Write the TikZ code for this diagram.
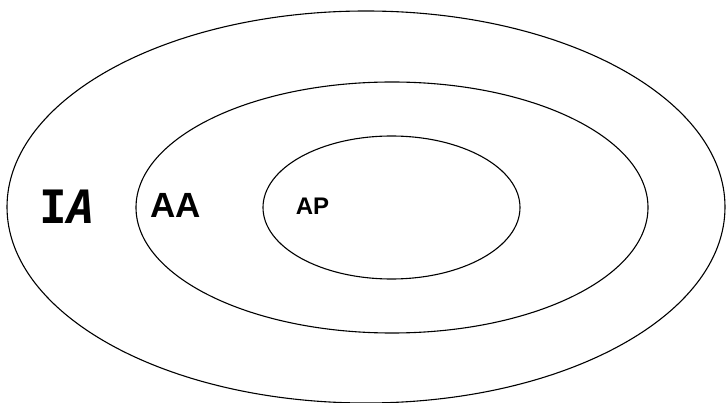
\documentclass[tikz,border=0pt]{standalone}
\usepackage{fontspec}
\setmainfont{Liberation Sans}
\newfontfamily\monofam{DejaVu Sans Mono}
\usepackage{tikz}
\usetikzlibrary{positioning}

\begin{document}
\begin{tikzpicture}[
    x=1pt, y=1pt,
    ring/.style={draw=black, line width=1.1pt},
    tag/.style={inner sep=0pt, anchor=base, font=\bfseries},
]
\useasboundingbox (0,0) rectangle (726,402);
% nested sets
\draw[ring] (366,195) ellipse [x radius=359, y radius=196];
\draw[ring] (392,194.5) ellipse [x radius=256, y radius=125.5];
\draw[ring] (391.5,194.5) ellipse [x radius=128.5, y radius=71.5];
% labels
\node[tag, font=\monofam\bfseries\fontsize{46}{46}\selectfont] (ia) at (67,178) {I{\itshape A}};
\node[tag, font=\bfseries\fontsize{35}{35}\selectfont] (aa) at (176,184) {AA};
\node[tag, font=\bfseries\fontsize{24}{24}\selectfont] (ap) at (312.5,187) {AP};
\end{tikzpicture}
\end{document}
